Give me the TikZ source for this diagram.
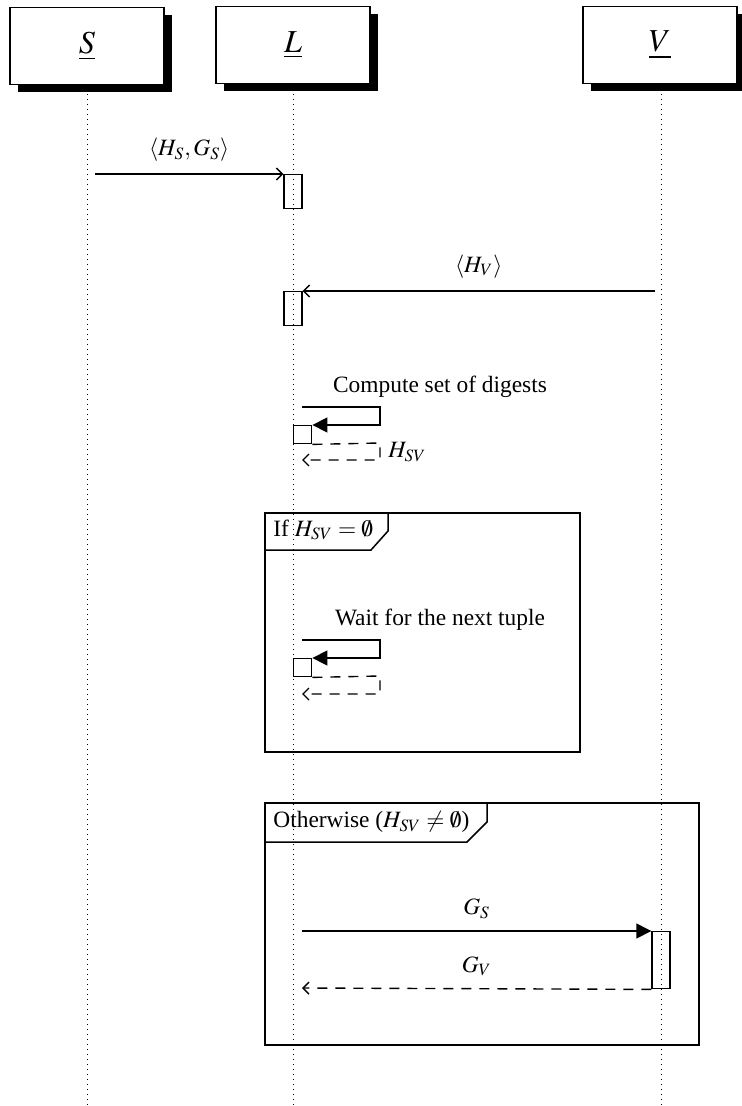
\documentclass[tikz,border=0pt]{standalone}
\usepackage{mathptmx}
\usepackage{fontspec}
\setmainfont{Liberation Serif}
\usetikzlibrary{arrows.meta,shadows}
\begin{document}
\begin{tikzpicture}[x=0.5pt,y=-0.5pt,
  inst/.style={draw, fill=white, minimum width=77pt, minimum height=38.5pt, line width=0.7pt,
    drop shadow={shadow xshift=4pt, shadow yshift=-4pt, opacity=1, fill=black},
    font=\fontsize{16}{18}\selectfont},
  life/.style={dotted, line width=0.5pt},
  act/.style={draw, minimum width=9pt, inner sep=0pt, line width=0.7pt, anchor=north},
  sbox/.style={draw, minimum width=9pt, minimum height=9pt, inner sep=0pt, line width=0.7pt, anchor=north west},
  msg/.style={-{Straight Barb[length=3pt,width=6pt]}, line width=0.7pt},
  call/.style={-{Triangle[length=7.5pt,width=7.5pt]}, line width=0.7pt},
  ret/.style={dash pattern=on 5pt off 4pt, -{Straight Barb[length=3pt,width=6pt]}, line width=0.7pt},
  lbl/.style={font=\fontsize{11.7}{13}\selectfont, inner sep=1pt},
  frm/.style={draw, line width=0.75pt},
]
\useasboundingbox (0,0) rectangle (741,1106);
% instances
\coordinate (Sbot) at (87,1106);
\coordinate (Lbot) at (293,1106);
\coordinate (Vbot) at (661,1106);
\node[inst] (S) at (87,46) {$\underline{S}$};
\node[inst] (L) at (293,45) {$\underline{L}$};
\node[inst] (V) at (660,45) {$\underline{V}$};
\draw[life] (87,94) -- (Sbot);
\draw[life] (293,94) -- (Lbot);
\draw[life] (661,94) -- (Vbot);

% message 1
\node[act, minimum height=17pt] (a1) at (293,174) {};
\coordinate (m1s) at (95,174);
\draw[msg] (m1s) -- node[lbl, above=5pt] (t1) {$\langle H_S, G_S\rangle$} (a1.north west);

% message 2
\node[act, minimum height=17pt] (a2) at (293,291) {};
\coordinate (m2s) at (655,291);
\draw[msg] (m2s) -- node[lbl, above=5pt] (t2) {$\langle H_V\rangle$} (a2.north east);

% self call 1
\node[sbox] (c1) at (293,425) {};
\coordinate (c1s) at (302,407);
\coordinate (c1r) at (380,407);
\coordinate (c1d) at (302,460);
\coordinate (c1q) at (380,443);
\node[lbl] (t3) at (440,387) {Compute set of digests};
\draw[call] (c1s) -- (c1r) |- (c1.north east);
\draw[ret] (c1.south east) -- (c1q) |- (c1d);
\node[lbl, anchor=west] (t4) at (386,452) {$H_{SV}$};

% frame 1
\draw[frm] (265,513) rectangle (580,752);
\draw[frm] (265,550) -- (371,550) -- (388,531) -- (388,513);
\node[lbl, anchor=west] (f1) at (271,530) {If $H_{SV} = \emptyset$};

% self call 2
\node[sbox] (c2) at (293,658) {};
\coordinate (c2s) at (302,640);
\coordinate (c2r) at (380,640);
\coordinate (c2d) at (302,694);
\coordinate (c2q) at (380,676);
\node[lbl] (t5) at (440,620) {Wait for the next tuple};
\draw[call] (c2s) -- (c2r) |- (c2.north east);
\draw[ret] (c2.south east) -- (c2q) |- (c2d);

% frame 2
\draw[frm] (265,803) rectangle (699,1045);
\draw[frm] (265,842) -- (467,842) -- (487,822) -- (487,803);
\node[lbl, anchor=west] (f2) at (271,822) {Otherwise ($H_{SV} \neq \emptyset$)};

% message G_S / G_V
\node[act, minimum height=28.5pt] (a3) at (661,931) {};
\coordinate (m3s) at (302,931);
\coordinate (m4e) at (302,988);
\draw[call] (m3s) -- node[lbl, above=5pt] (t6) {$G_S$} (a3.north west);
\draw[ret] (a3.south west) -- node[lbl, above=5pt] (t7) {$G_V$} (m4e);
\end{tikzpicture}
\end{document}
